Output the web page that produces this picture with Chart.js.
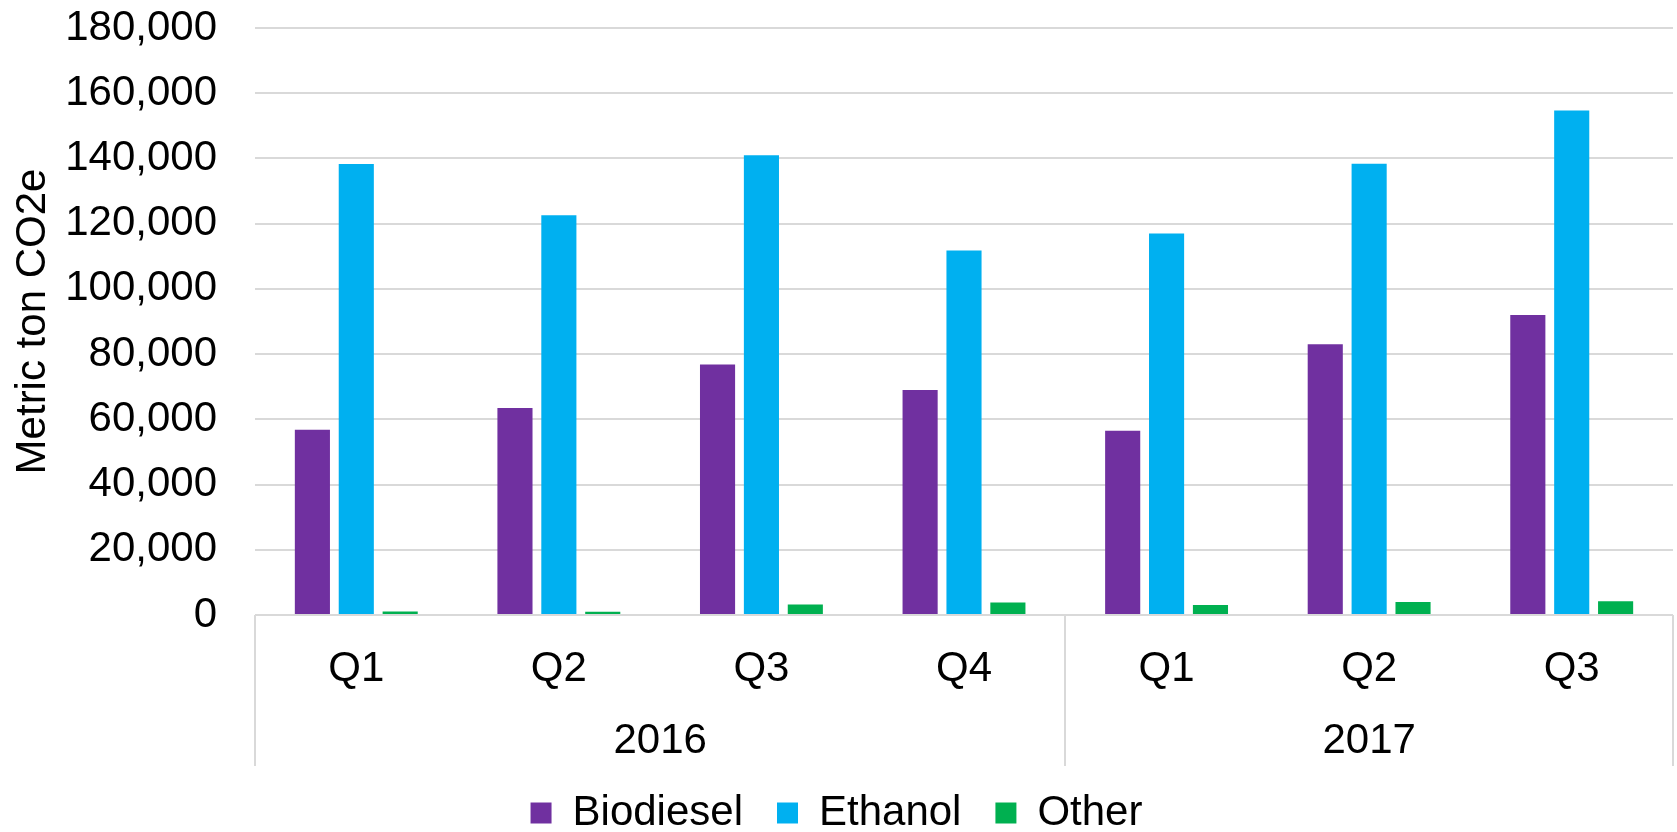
<!DOCTYPE html>
<html>
<head>
<meta charset="utf-8">
<script src="https://cdn.jsdelivr.net/npm/chart.js@4/dist/chart.umd.min.js"></script>
<style>
html,body{margin:0;padding:0;background:#fff;}
#wrap{width:1677px;height:832px;}
</style>
</head>
<body>
<div id="wrap"><canvas id="c" width="1677" height="832"></canvas></div>
<script>
const quarters = ["Q1","Q2","Q3","Q4","Q1","Q2","Q3"];
const years = ["2016","2017"];
const yearSpans = [4,3];
const biodiesel = [56800,63500,76800,69000,56500,83000,92000];
const ethanol = [138300,122600,141000,111800,117000,138400,154700];
const other = [1100,1000,3200,3800,3100,4000,4200];
const seriesNames = ["Biodiesel","Ethanol","Other"];
const seriesColors = ["#7030A0","#00B0F0","#00B050"];
const yTitle = "Metric ton CO2e";

const FONT = "'Liberation Sans', Arial, sans-serif";
const FS = 42;
const GRID = "#D9D9D9";

const groupPlugin = {
  id: 'groupPlugin',
  afterDraw(chart) {
    const {ctx, chartArea, scales} = chart;
    const x = scales.x;
    const bottom = chartArea.bottom + 151;
    ctx.save();
    ctx.strokeStyle = GRID;
    ctx.lineWidth = 2;
    let idx = 0;
    const bounds = [chartArea.left];
    yearSpans.forEach(s => {
      idx += s;
      if (idx < quarters.length) {
        bounds.push((x.getPixelForValue(idx - 1) + x.getPixelForValue(idx)) / 2);
      } else {
        bounds.push(chartArea.right);
      }
    });
    bounds.forEach(b => {
      ctx.beginPath();
      ctx.moveTo(Math.round(b), chartArea.bottom);
      ctx.lineTo(Math.round(b), bottom);
      ctx.stroke();
    });
    ctx.fillStyle = "#000";
    ctx.font = FS + "px " + FONT;
    ctx.textAlign = "center";
    ctx.textBaseline = "middle";
    years.forEach((yr, i) => {
      const cx = (bounds[i] + bounds[i+1]) / 2;
      ctx.fillText(yr, cx, chartArea.bottom + 126);
    });
    ctx.restore();
  }
};

new Chart(document.getElementById('c'), {
  type: 'bar',
  data: {
    labels: quarters,
    datasets: [
      {label: seriesNames[0], data: biodiesel, backgroundColor: seriesColors[0]},
      {label: seriesNames[1], data: ethanol, backgroundColor: seriesColors[1]},
      {label: seriesNames[2], data: other, backgroundColor: seriesColors[2]}
    ]
  },
  options: {
    responsive: false,
    devicePixelRatio: 1,
    animation: false,
    categoryPercentage: 0.65,
    barPercentage: 0.8,
    layout: {padding: {top: 28, right: 4, left: 0, bottom: -12}},
    plugins: {
      legend: {
        position: 'bottom',
        labels: {
          font: {family: FONT, size: FS},
          color: '#000',
          boxWidth: 21,
          boxHeight: 21,
          padding: 34
        }
      },
      tooltip: {enabled: false}
    },
    scales: {
      x: {
        grid: {display: false, drawTicks: false},
        border: {display: false},
        ticks: {font: {family: FONT, size: FS}, color: '#000', padding: 29, maxRotation: 0},
        afterFit: s => { s.height = 143; }
      },
      y: {
        min: 0, max: 180000,
        ticks: {stepSize: 20000, font: {family: FONT, size: FS}, color: '#000', padding: 38,
          callback: v => v.toLocaleString('en-US')},
        grid: {color: GRID, lineWidth: 2, drawTicks: false},
        border: {display: false},
        title: {display: true, text: yTitle, font: {family: FONT, size: FS}, color: '#000', padding: {top: 8, bottom: 0}},
        afterFit: s => { s.width = 255; s.paddingTop = 0; s.paddingBottom = 0; }
      }
    }
  },
  plugins: [groupPlugin]
});
</script>
</body>
</html>
